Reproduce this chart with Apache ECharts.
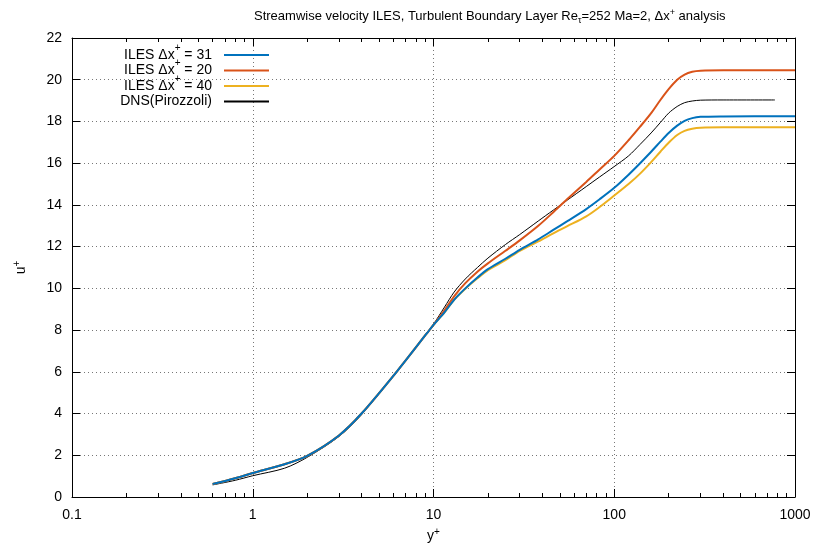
<!DOCTYPE html>
<html><head><meta charset="utf-8">
<script src="https://cdn.jsdelivr.net/npm/echarts@6/dist/echarts.min.js"></script>
<style>html,body{margin:0;padding:0;background:#fff}#c{width:817px;height:551px}</style>
</head><body><div id="c"></div>
<script>
// ---- data ----
const seriesNames = ['ILES Δx+ = 31', 'ILES Δx+ = 20', 'ILES Δx+ = 40', 'DNS(Pirozzoli)'];
const legendLabels = ['ILES Δx{sup|+} = 31', 'ILES Δx{sup|+} = 20', 'ILES Δx{sup|+} = 40', 'DNS(Pirozzoli){sup|\u200b}'];
const yPlusILES = [0.6, 0.8, 1, 1.5, 2, 3, 4, 6.25, 9.2, 10, 11.5, 13, 15, 17.5, 20, 25, 30, 38, 46, 55, 70, 83, 100, 120, 139, 160, 180, 200, 223, 245, 270, 300, 400, 1000];
const uPlusDx31 = [0.62, 0.9, 1.15, 1.57, 1.97, 2.95, 4.0, 6.0, 7.85, 8.25, 8.85, 9.45, 10.0, 10.52, 10.92, 11.42, 11.85, 12.35, 12.8, 13.22, 13.8, 14.27, 14.82, 15.45, 16.0, 16.55, 17.03, 17.45, 17.8, 18.03, 18.16, 18.22, 18.24, 18.25];
const uPlusDx20 = [0.62, 0.9, 1.15, 1.57, 1.97, 2.95, 4.0, 6.0, 7.85, 8.25, 8.95, 9.62, 10.25, 10.8, 11.2, 11.8, 12.3, 13.0, 13.65, 14.28, 15.1, 15.7, 16.35, 17.1, 17.75, 18.4, 19.03, 19.55, 20.0, 20.25, 20.38, 20.43, 20.45, 20.45];
const uPlusDx40 = [0.62, 0.9, 1.15, 1.57, 1.97, 2.95, 4.0, 6.0, 7.85, 8.25, 8.85, 9.45, 9.98, 10.48, 10.87, 11.35, 11.8, 12.25, 12.64, 12.98, 13.45, 13.9, 14.45, 15.0, 15.5, 16.05, 16.55, 16.98, 17.35, 17.55, 17.65, 17.7, 17.72, 17.72];
const yPlusDNS = [0.6, 0.8, 1, 1.5, 2, 3, 4, 6.25, 9.2, 10, 11.5, 13, 15, 17.5, 20, 25, 30, 38, 46, 55, 70, 83, 100, 120, 139, 160, 180, 200, 223, 245, 270, 300, 400, 774];
const uPlusDNS = [0.58, 0.8, 1.02, 1.38, 1.9, 2.9, 3.95, 6.0, 7.85, 8.28, 9.1, 9.82, 10.45, 11.0, 11.45, 12.1, 12.58, 13.23, 13.75, 14.23, 14.88, 15.34, 15.84, 16.35, 16.9, 17.45, 17.95, 18.4, 18.72, 18.9, 18.98, 19.02, 19.03, 19.03];
const xMajorTicks = [0.1, 1, 10, 100, 1000];
const xMinorTicks = [0.2,0.3,0.4,0.5,0.6,0.7,0.8,0.9, 2,3,4,5,6,7,8,9, 20,30,40,50,60,70,80,90, 200,300,400,500,600,700,800,900];
const yMin = 0, yMax = 22, yStep = 2;
const colors = ['#0072bd', '#d95319', '#edb120', '#000000'];
const lineWidths = [2, 2, 2, 1];

function pairs(xs, ys) { return xs.map((x, i) => [x, ys[i]]); }
const seriesData = [pairs(yPlusILES, uPlusDx31), pairs(yPlusILES, uPlusDx20), pairs(yPlusILES, uPlusDx40), pairs(yPlusDNS, uPlusDNS)];

const FONT = '"Liberation Sans", Arial, sans-serif';
const chart = echarts.init(document.getElementById('c'), null, { renderer: 'canvas' });
const dotted = { color: '#777', width: 1, type: [1, 3] };
const frame = { show: true, lineStyle: { color: '#000', width: 1 } };

function xAxisDef(pos, ticks, len, main) {
  return {
    type: 'log', logBase: 10, min: 0.1, max: 1000, position: pos,
    axisLine: main ? frame : { show: false },
    axisTick: { show: true, inside: true, length: len, customValues: ticks, lineStyle: { color: '#000' } },
    axisLabel: { show: main && pos === 'bottom', customValues: xMajorTicks, color: '#000', fontFamily: FONT, fontSize: 14, margin: 11,
                 formatter: v => String(+v.toPrecision(6)) },
    splitLine: { show: main && pos === 'bottom', lineStyle: dotted },
    name: main && pos === 'bottom' ? 'y{sup|+}' : '', nameLocation: 'middle', nameGap: 30,
    nameTextStyle: { color: '#000', fontFamily: FONT, fontSize: 14, rich: { sup: { fontSize: 10, verticalAlign: 'top', padding: [0, 0, 8, 0], fontFamily: FONT } } }
  };
}
function yAxisDef(pos, main) {
  return {
    type: 'value', min: yMin, max: yMax, interval: yStep, position: pos,
    axisLine: frame,
    axisTick: { show: true, inside: true, length: 8, lineStyle: { color: '#000' } },
    axisLabel: { show: main, color: '#000', fontFamily: FONT, fontSize: 14, margin: 10 },
    splitLine: { show: main, lineStyle: dotted },
    name: main ? 'u{sup|+}' : '', nameLocation: 'middle', nameGap: 42, nameRotate: 90,
    nameTextStyle: { color: '#000', fontFamily: FONT, fontSize: 14, rich: { sup: { fontSize: 10, padding: [0, 0, 8, 0], fontFamily: FONT } } }
  };
}

chart.setOption({
  animation: false,
  backgroundColor: '#fff',
  title: {
    text: 'Streamwise velocity ILES, Turbulent Boundary Layer Re{sub|τ}=252 Ma=2, Δx{sup|+} analysis',
    left: 249, top: 3,
    textStyle: { fontFamily: FONT, fontSize: 13, fontWeight: 'normal', color: '#000',
      rich: { sub: { fontSize: 9, padding: [8, 0, 0, 0], fontFamily: FONT, color: '#000' },
              sup: { fontSize: 9, padding: [0, 0, 8, 0], fontFamily: FONT, color: '#000' } } }
  },
  grid: { left: 72, right: 22, top: 38, bottom: 54, containLabel: false },
  xAxis: [xAxisDef('bottom', xMajorTicks, 8, true), xAxisDef('bottom', xMinorTicks, 4, false),
          xAxisDef('top', xMajorTicks, 8, true), xAxisDef('top', xMinorTicks, 4, false)],
  yAxis: [yAxisDef('left', true), yAxisDef('right', false)],
  legend: {
    data: seriesNames, orient: 'vertical', align: 'right', right: 547, top: 43, padding: 0,
    itemWidth: 45, itemHeight: 10, itemGap: -3.5,
    itemStyle: { opacity: 0 },
    formatter: n => legendLabels[seriesNames.indexOf(n)],
    textStyle: { fontFamily: FONT, fontSize: 14, color: '#000', lineHeight: 14, padding: [0, 7, 0, 0],
      rich: { sup: { fontSize: 10, verticalAlign: 'bottom', padding: [0, 0, 9, 0], lineHeight: 14, fontFamily: FONT } } }
  },
  series: seriesNames.map((n, i) => ({
    name: n, type: 'line', xAxisIndex: 0, yAxisIndex: 0, data: seriesData[i],
    showSymbol: false, symbol: 'none', smooth: 0.3,
    lineStyle: { color: colors[i], width: lineWidths[i] }, itemStyle: { color: colors[i] },
    z: 10 - i
  }))
});
</script></body></html>
